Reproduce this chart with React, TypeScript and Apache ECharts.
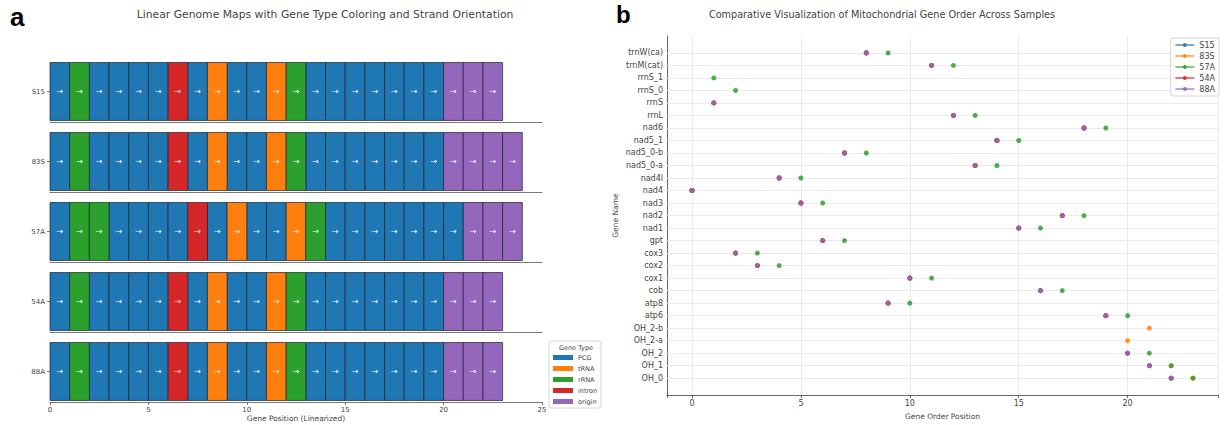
import React, { useEffect, useRef } from "react";
import * as echarts from "echarts";

// ---------- data ----------
const samples = ["S15", "83S", "57A", "54A", "88A"];
const sampleColors = ["#1f77b4", "#ff7f0e", "#2ca02c", "#d62728", "#9467bd"];

const geneTypes = ["PCG", "tRNA", "rRNA", "intron", "origin"];
const typeColors = ["#1f77b4", "#ff7f0e", "#2ca02c", "#d62728", "#9467bd"];

// y-axis categories of panel b (top to bottom)
const genes = [
  "trnW(ca)", "trnM(cat)", "rrnS_1", "rrnS_0", "rrnS", "rrnL", "nad6", "nad5_1",
  "nad5_0-b", "nad5_0-a", "nad4l", "nad4", "nad3", "nad2", "nad1", "gpt", "cox3",
  "cox2", "cox1", "cob", "atp8", "atp6", "OH_2-b", "OH_2-a", "OH_2", "OH_1", "OH_0",
];
// gene type (index into geneTypes) for each gene above
const geneTypeIdx = [1, 1, 2, 2, 2, 2, 0, 0, 0, 0, 0, 0, 0, 0, 0, 3, 0, 0, 0, 0, 0, 0, 4, 4, 4, 4, 4];
// strand for each gene (1 = forward)
const geneStrand = [1, 1, 1, 1, 1, 1, 1, 1, 1, 1, 1, 1, 1, 1, 1, 1, 1, 1, 1, 1, 1, 1, 1, 1, 1, 1, 1];

// gene order of each sample (position = index)
const orderS15 = ["nad4", "rrnS", "cox3", "cox2", "nad4l", "nad3", "gpt", "nad5_0-b", "trnW(ca)", "atp8", "cox1", "trnM(cat)", "rrnL", "nad5_0-a", "nad5_1", "nad1", "cob", "nad2", "nad6", "atp6", "OH_2", "OH_1", "OH_0"];
const order83S = ["nad4", "rrnS", "cox3", "cox2", "nad4l", "nad3", "gpt", "nad5_0-b", "trnW(ca)", "atp8", "cox1", "trnM(cat)", "rrnL", "nad5_0-a", "nad5_1", "nad1", "cob", "nad2", "nad6", "atp6", "OH_2-a", "OH_2-b", "OH_1", "OH_0"];
const order57A = ["nad4", "rrnS_1", "rrnS_0", "cox3", "cox2", "nad4l", "nad3", "gpt", "nad5_0-b", "trnW(ca)", "atp8", "cox1", "trnM(cat)", "rrnL", "nad5_0-a", "nad5_1", "nad1", "cob", "nad2", "nad6", "atp6", "OH_2", "OH_1", "OH_0"];
const order54A = ["nad4", "rrnS", "cox3", "cox2", "nad4l", "nad3", "gpt", "nad5_0-b", "trnW(ca)", "atp8", "cox1", "trnM(cat)", "rrnL", "nad5_0-a", "nad5_1", "nad1", "cob", "nad2", "nad6", "atp6", "OH_2", "OH_1", "OH_0"];
const order88A = ["nad4", "rrnS", "cox3", "cox2", "nad4l", "nad3", "gpt", "nad5_0-b", "trnW(ca)", "atp8", "cox1", "trnM(cat)", "rrnL", "nad5_0-a", "nad5_1", "nad1", "cob", "nad2", "nad6", "atp6", "OH_2", "OH_1", "OH_0"];
const orders = [orderS15, order83S, order57A, order54A, order88A];

const linearTicks = { min: 0, max: 25, interval: 5 };

// ---------- option ----------
const FONT = "DejaVu Sans";
const TXT = "#444";

function buildOption(): any {
  const grid: any[] = [];
  const xAxis: any[] = [];
  const yAxis: any[] = [];
  const series: any[] = [];

  samples.forEach((s, i) => {
    const last = i === samples.length - 1;
    grid.push({ left: 50, width: 492, top: 61 + 70 * i, height: 61 });
    xAxis.push({
      type: "value",
      gridIndex: i,
      min: linearTicks.min,
      max: linearTicks.max,
      interval: linearTicks.interval,
      axisLine: { show: true, onZero: false, lineStyle: { color: "#555", width: 0.8 } },
      axisTick: { show: last, length: 3, lineStyle: { color: "#555", width: 0.8 } },
      axisLabel: { show: last, fontSize: 7, color: TXT, margin: 4, fontFamily: FONT },
      splitLine: { show: false },
      name: last ? "Gene Position (Linearized)" : "",
      nameLocation: "middle",
      nameGap: 12,
      nameTextStyle: { fontSize: 7.5, color: TXT, fontFamily: FONT },
    });
    yAxis.push({
      type: "category",
      gridIndex: i,
      data: [s],
      axisLine: { show: false },
      axisTick: { show: true, alignWithLabel: true, length: 3, lineStyle: { color: "#555", width: 0.8 } },
      axisLabel: { fontSize: 7, color: TXT, margin: 5, fontFamily: FONT },
    });
    geneTypes.forEach((t, ti) => {
      const data: number[][] = [];
      orders[i].forEach((g, pos) => {
        const gi = genes.indexOf(g);
        if (geneTypeIdx[gi] === ti) data.push([pos, pos + 1, 0, geneStrand[gi]]);
      });
      const color = typeColors[ti];
      series.push({
        type: "custom",
        name: t,
        xAxisIndex: i,
        yAxisIndex: i,
        encode: { x: [0, 1], y: 2 },
        itemStyle: { color },
        data,
        renderItem: (_params: any, api: any) => {
          const a = api.value(0);
          const b = api.value(1);
          const row = api.value(2);
          const p0 = api.coord([a, row]);
          const p1 = api.coord([b, row]);
          const h = api.size([0, 1])[1] * 0.95;
          return {
            type: "group",
            children: [
              {
                type: "rect",
                shape: { x: p0[0], y: p0[1] - h / 2, width: p1[0] - p0[0], height: h },
                style: { fill: color, stroke: "#1b2330", lineWidth: 0.7 },
              },
              {
                type: "text",
                x: (p0[0] + p1[0]) / 2,
                y: p0[1],
                style: {
                  text: api.value(3) > 0 ? "→" : "←",
                  fill: "#ffffff",
                  fontSize: 8,
                  fontFamily: FONT,
                  align: "center",
                  verticalAlign: "middle",
                },
              },
            ],
          };
        },
      });
    });
  });

  // panel b
  const gi = samples.length;
  grid.push({ left: 667, width: 551, top: 36, height: 367 });
  xAxis.push({
    type: "value",
    gridIndex: gi,
    min: -1.15,
    max: 24.15,
    splitNumber: 5,
    minInterval: 5,
    maxInterval: 5,
    axisLine: { show: true, onZero: false, lineStyle: { color: "#444", width: 0.8 } },
    axisTick: { show: true, length: 3, lineStyle: { color: "#444", width: 0.8 } },
    axisLabel: {
      fontSize: 8,
      color: TXT,
      margin: 4,
      fontFamily: FONT,
      formatter: (v: number) => (Math.abs(v / 5 - Math.round(v / 5)) < 1e-6 ? String(Math.round(v)) : ""),
    },
    splitLine: { show: true, lineStyle: { color: "#e6e6e6", width: 0.8 } },
    name: "Gene Order Position",
    nameLocation: "middle",
    nameGap: 11,
    nameTextStyle: { fontSize: 7.5, color: TXT, fontFamily: FONT },
  });
  yAxis.push({
    type: "value",
    gridIndex: gi,
    inverse: true,
    min: -1.35,
    max: 27.35,
    splitNumber: 28,
    minInterval: 1,
    maxInterval: 1,
    axisLine: { show: true, onZero: false, lineStyle: { color: "#444", width: 0.8 } },
    axisTick: { show: false },
    axisLabel: {
      fontSize: 8,
      color: TXT,
      margin: 4,
      fontFamily: FONT,
      formatter: (v: number) => {
        const r = Math.round(v);
        return Math.abs(v - r) < 1e-6 && r >= 0 && r < genes.length ? genes[r] : "";
      },
    },
    splitLine: { show: false },
    name: "Gene Name",
    nameLocation: "middle",
    nameGap: 48,
    nameRotate: 90,
    nameTextStyle: { fontSize: 7.5, color: TXT, fontFamily: FONT },
  });

  series.push({
    type: "line",
    name: "_gridlines",
    xAxisIndex: gi,
    yAxisIndex: gi,
    data: [],
    silent: true,
    z: 1,
    markLine: {
      silent: true,
      z: 1,
      symbol: ["none", "none"],
      label: { show: false },
      lineStyle: { color: "#e6e6e6", width: 0.8, type: "solid" },
      emphasis: { disabled: true },
      data: genes.map((_g, k) => ({ yAxis: k })),
    },
  });

  samples.forEach((s, i) => {
    series.push({
      type: "line",
      name: s,
      xAxisIndex: gi,
      yAxisIndex: gi,
      z: 3,
      symbol: "circle",
      symbolSize: 5,
      showSymbol: true,
      showAllSymbol: true,
      lineStyle: { opacity: 0, color: sampleColors[i] },
      itemStyle: { color: sampleColors[i], opacity: 0.85, borderWidth: 0 },
      data: orders[i].map((g, pos) => [pos, genes.indexOf(g)]),
    });
  });

  return {
    animation: false,
    backgroundColor: "#ffffff",
    textStyle: { fontFamily: FONT },
    grid,
    xAxis,
    yAxis,
    series,
    legend: [
      {
        data: geneTypes,
        orient: "vertical",
        left: 549,
        top: 341,
        icon: "rect",
        itemWidth: 20,
        itemHeight: 5,
        itemGap: 4,
        textStyle: { fontSize: 6.5, color: TXT, fontFamily: FONT },
        borderColor: "#cccccc",
        borderWidth: 0.8,
        borderRadius: 2,
        padding: [13, 4, 3, 4],
        selectedMode: false,
      },
      {
        data: samples,
        orient: "vertical",
        right: 6,
        top: 38,
        itemWidth: 19,
        itemHeight: 5,
        itemGap: 3,
        textStyle: { fontSize: 8, color: TXT, fontFamily: FONT },
        lineStyle: { opacity: 1, width: 1.2 },
        borderColor: "#cccccc",
        borderWidth: 0.8,
        borderRadius: 2,
        padding: [3, 4, 3, 4],
        backgroundColor: "rgba(255,255,255,0.85)",
        selectedMode: false,
      },
    ],
    graphic: [
      { type: "text", left: 10, top: 4, style: { text: "a", fontSize: 26, fontWeight: "bold", fontFamily: "Liberation Sans", fill: "#000" } },
      { type: "text", left: 616, top: 2, style: { text: "b", fontSize: 24, fontWeight: "bold", fontFamily: "Liberation Sans", fill: "#000" } },
      { type: "text", x: 325, y: 14, style: { text: "Linear Genome Maps with Gene Type Coloring and Strand Orientation", fontSize: 10.8, fontFamily: FONT, fill: TXT, align: "center", verticalAlign: "middle" } },
      { type: "text", x: 882, y: 14, style: { text: "Comparative Visualization of Mitochondrial Gene Order Across Samples", fontSize: 9.7, fontFamily: FONT, fill: TXT, align: "center", verticalAlign: "middle" } },
      { type: "text", x: 576, y: 348, style: { text: "Gene Type", fontSize: 6.5, fontFamily: FONT, fill: TXT, align: "center", verticalAlign: "middle" } },
    ],
  };
}

export default function App() {
  const ref = useRef<HTMLDivElement>(null);
  useEffect(() => {
    document.body.style.margin = "0";
    const chart = echarts.init(ref.current as HTMLDivElement, null, { renderer: "svg" });
    chart.setOption(buildOption());
    return () => chart.dispose();
  }, []);
  return <div ref={ref} style={{ width: 1225, height: 425 }} />;
}
